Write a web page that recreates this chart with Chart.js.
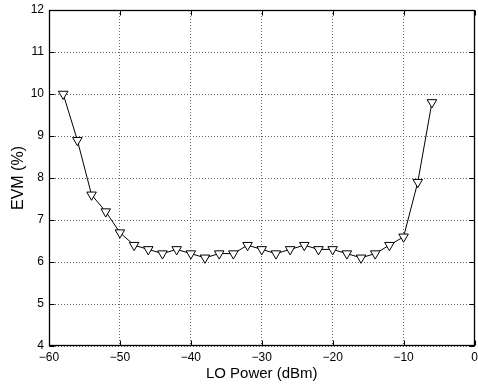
<!DOCTYPE html>
<html>
<head>
<meta charset="utf-8">
<script src="https://cdn.jsdelivr.net/npm/chart.js@4/dist/chart.umd.min.js"></script>
<style>
  html, body { margin: 0; padding: 0; background: #fff; overflow: hidden; }
  #wrap { width: 481px; height: 386px; }
</style>
</head>
<body>
<div id="wrap"><canvas id="grafico"></canvas></div>
<script>
// Datos
const loPower = [-58, -56, -54, -52, -50, -48, -46, -44, -42, -40, -38, -36, -34, -32,
                 -30, -28, -26, -24, -22, -20, -18, -16, -14, -12, -10, -8, -6];
const evm = [10.0, 8.9, 7.6, 7.2, 6.7, 6.4, 6.3, 6.2, 6.3, 6.2, 6.1, 6.2, 6.2, 6.4,
             6.3, 6.2, 6.3, 6.4, 6.3, 6.3, 6.2, 6.1, 6.2, 6.4, 6.6, 7.9, 9.8];
const xTicks = [-60, -50, -40, -30, -20, -10, 0];
const yTicks = [4, 5, 6, 7, 8, 9, 10, 11, 12];
const xTitle = 'LO Power (dBm)';
const yTitle = 'EVM (%)';

const fuente = 'Helvetica, "Liberation Sans", Arial, sans-serif';
const menos = v => String(v).replace('-', '\u2212');

// Caja y marcas hacia dentro, estilo MATLAB
const cajaPlugin = {
    id: 'caja',
    afterDraw(chart) {
        const { ctx, chartArea: a, scales: { x, y } } = chart;
        const L = Math.round(a.left) + 0.5, R = Math.round(a.right) - 0.5;
        const T = Math.round(a.top) + 0.5, B = Math.round(a.bottom) - 0.5;
        const len = 5;
        ctx.save();
        ctx.strokeStyle = '#000';
        ctx.lineWidth = 1;
        ctx.beginPath();
        xTicks.forEach(v => {
            const px = Math.round(x.getPixelForValue(v)) + 0.5;
            ctx.moveTo(px, B); ctx.lineTo(px, B - len);
            ctx.moveTo(px, T); ctx.lineTo(px, T + len);
        });
        yTicks.forEach(v => {
            const py = Math.round(y.getPixelForValue(v)) + 0.5;
            ctx.moveTo(L, py); ctx.lineTo(L + len, py);
            ctx.moveTo(R, py); ctx.lineTo(R - len, py);
        });
        ctx.stroke();
        ctx.lineWidth = 1.3;
        ctx.strokeRect(L, T, R - L, B - T);
        ctx.restore();
    }
};

new Chart(document.getElementById('grafico'), {
    type: 'line',
    data: {
        datasets: [{
            data: loPower.map((p, i) => ({ x: p, y: evm[i] })),
            borderColor: '#000',
            borderWidth: 1,
            tension: 0,
            pointStyle: 'triangle',
            rotation: 180,
            radius: 5.5,
            pointBackgroundColor: '#fff',
            pointBorderColor: '#000',
            pointBorderWidth: 1
        }]
    },
    options: {
        responsive: true,
        maintainAspectRatio: false,
        animation: false,
        layout: { padding: { top: 10, right: 0, bottom: 0, left: 0 } },
        plugins: { legend: { display: false }, tooltip: { enabled: false } },
        scales: {
            x: {
                type: 'linear',
                min: -60,
                max: 0,
                afterFit: s => { s.height = 40; s.paddingLeft = 0; s.paddingRight = 0; },
                afterBuildTicks: s => { s.ticks = xTicks.map(v => ({ value: v })); },
                ticks: {
                    color: '#000',
                    font: { family: fuente, size: 12 },
                    padding: 4,
                    maxRotation: 0,
                    callback: v => menos(v)
                },
                grid: { color: '#666', drawTicks: false },
                border: { display: false, dash: [1, 2] },
                title: {
                    display: true,
                    text: xTitle,
                    color: '#000',
                    font: { family: fuente, size: 15 },
                    padding: { top: 0, bottom: 3 }
                }
            },
            y: {
                min: 4,
                max: 12,
                afterFit: s => { s.width = 49; s.paddingTop = 0; s.paddingBottom = 0; },
                afterBuildTicks: s => { s.ticks = yTicks.map(v => ({ value: v })); },
                ticks: {
                    color: '#000',
                    font: { family: fuente, size: 12 },
                    padding: 5,
                    callback: v => menos(v)
                },
                grid: { color: '#666', drawTicks: false },
                border: { display: false, dash: [1, 2] },
                title: {
                    display: true,
                    text: yTitle,
                    color: '#000',
                    font: { family: fuente, size: 16 },
                    padding: { top: 9, bottom: 0 }
                }
            }
        }
    },
    plugins: [cajaPlugin]
});
</script>
</body>
</html>
